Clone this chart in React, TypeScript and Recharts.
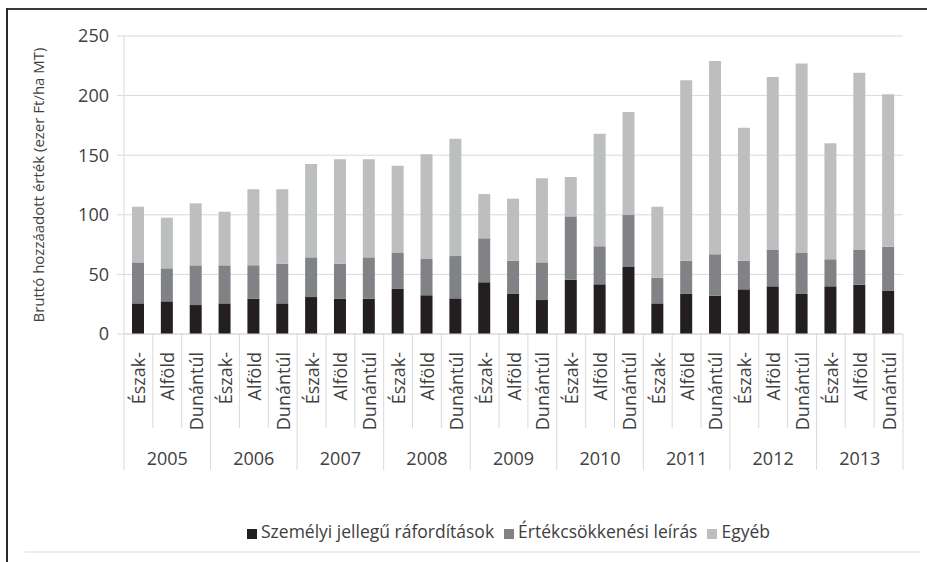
import React from "react";
import { BarChart, Bar, XAxis, YAxis, CartesianGrid, Legend } from "recharts";

const years = ["2005", "2006", "2007", "2008", "2009", "2010", "2011", "2012", "2013"];
const regions = ["Észak-", "Alföld", "Dunántúl"];

// ezer Ft/ha MT, read per bar (year x region)
const personal = [25.7, 27.4, 24.3, 25.7, 29.6, 25.7, 31, 29.6, 29.6, 37.8, 32.5, 29.9, 43.4, 33.6, 28.5, 45.6, 41.7, 56.2, 25.7, 33.6, 32.1, 37.5, 40, 33.6, 40, 41.4, 36.1];
const depreciation = [34.4, 27.7, 33.3, 31.9, 28, 33.3, 33.3, 29.4, 34.7, 30.2, 30.4, 35.5, 36.9, 27.9, 31.6, 53.1, 31.9, 43.6, 21.5, 27.9, 34.8, 24, 30.5, 34.4, 22.7, 29.1, 37.1];
const other = [46.7, 42.5, 52, 45, 63.8, 62.4, 78.3, 87.6, 82.3, 73.2, 87.9, 98.4, 37.1, 52, 70.5, 33, 94.4, 86.4, 59.6, 151.3, 162.1, 111.6, 145.1, 159, 97.3, 148.7, 127.9];

const seriesNames = ["Személyi jellegű ráfordítások", "Értékcsökkenési leírás", "Egyéb"];
const yTicks = [0, 50, 100, 150, 200, 250];

const data = years.flatMap((year, yi) =>
  regions.map((region, ri) => {
    const i = yi * 3 + ri;
    return {
      key: `${year}|${region}`,
      year,
      region,
      personal: personal[i],
      depreciation: depreciation[i],
      other: other[i],
    };
  })
);

const W = 927;
const H = 562;
const MARGIN = { top: 36, right: 24, bottom: 88, left: 74 };
const Y_WIDTH = 50;
const PLOT_W = W - MARGIN.left - MARGIN.right - Y_WIDTH;
const BAND = PLOT_W / data.length;
const FONT = "'Open Sans', sans-serif";
const TEXT = "#404040";
const LINE = "#d9d9d9";

function CategoryTick(props: any) {
  const { x, y, index } = props;
  const row = data[index];
  if (!row) return null;
  const left = x - BAND / 2;
  const first = index % 3 === 0;
  const last = index === data.length - 1;
  return (
    <g>
      <line x1={left} y1={y} x2={left} y2={y + (first ? 136 : 94)} stroke={LINE} />
      {last && <line x1={x + BAND / 2} y1={y} x2={x + BAND / 2} y2={y + 136} stroke={LINE} />}
      <text
        x={0}
        y={0}
        transform={`translate(${x},${y + 18}) rotate(-90)`}
        textAnchor="end"
        dominantBaseline="central"
        fontSize={18}
        fontFamily={FONT}
        fill={TEXT}
      >
        {row.region}
      </text>
      {index % 3 === 1 && (
        <text
          x={x}
          y={y + 124}
          textAnchor="middle"
          dominantBaseline="central"
          fontSize={18}
          fontFamily={FONT}
          fill={TEXT}
        >
          {row.year}
        </text>
      )}
    </g>
  );
}

function YTitle(props: any) {
  const vb = props.viewBox || {};
  const cy = (vb.y || 0) + (vb.height || 0) / 2;
  return (
    <text
      x={0}
      y={0}
      transform={`translate(38,${cy}) rotate(-90)`}
      textAnchor="middle"
      dominantBaseline="central"
      fontSize={15}
      fontFamily={FONT}
      fill={TEXT}
    >
      Bruttó hozzáadott érték (ezer Ft/ha MT)
    </text>
  );
}

const legendText = (value: string) => (
  <span style={{ color: TEXT, fontSize: 17.5, fontFamily: FONT }}>{value}</span>
);

export default function App() {
  return (
    <div style={{ position: "absolute", left: 0, top: 0, width: W, height: H, background: "#fff" }}>
      <div style={{ position: "absolute", left: 6, top: 8, right: 0, height: 2, background: "#3a3a3a" }} />
      <div style={{ position: "absolute", left: 6, top: 8, bottom: 0, width: 2, background: "#2a2a2a" }} />
      <div style={{ position: "absolute", left: 25, top: 551, width: 896, height: 2, background: "#ececec" }} />
      <BarChart width={W} height={H} data={data} margin={MARGIN} barSize={12}>
        <CartesianGrid vertical={false} stroke={LINE} />
        <XAxis
          dataKey="key"
          interval={0}
          height={140}
          tickSize={0}
          tickMargin={0}
          stroke={LINE}
          tick={<CategoryTick />}
        />
        <YAxis
          width={Y_WIDTH}
          domain={[0, 250]}
          ticks={yTicks}
          tickSize={7}
          tickMargin={8}
          stroke={LINE}
          tick={{ fill: TEXT, fontSize: 18, fontFamily: FONT }}
          label={<YTitle />}
        />
        <Legend
          verticalAlign="middle"
          align="center"
          layout="horizontal"
          iconType="square"
          iconSize={10}
          formatter={legendText}
          itemSorter={(item: any) => seriesNames.indexOf(item.value)}
          wrapperStyle={{ top: 519, left: MARGIN.left + Y_WIDTH, width: PLOT_W }}
        />
        <Bar dataKey="personal" name={seriesNames[0]} stackId="a" fill="#231f20" isAnimationActive={false} />
        <Bar dataKey="depreciation" name={seriesNames[1]} stackId="a" fill="#808285" isAnimationActive={false} />
        <Bar dataKey="other" name={seriesNames[2]} stackId="a" fill="#bcbec0" isAnimationActive={false} />
      </BarChart>
    </div>
  );
}
